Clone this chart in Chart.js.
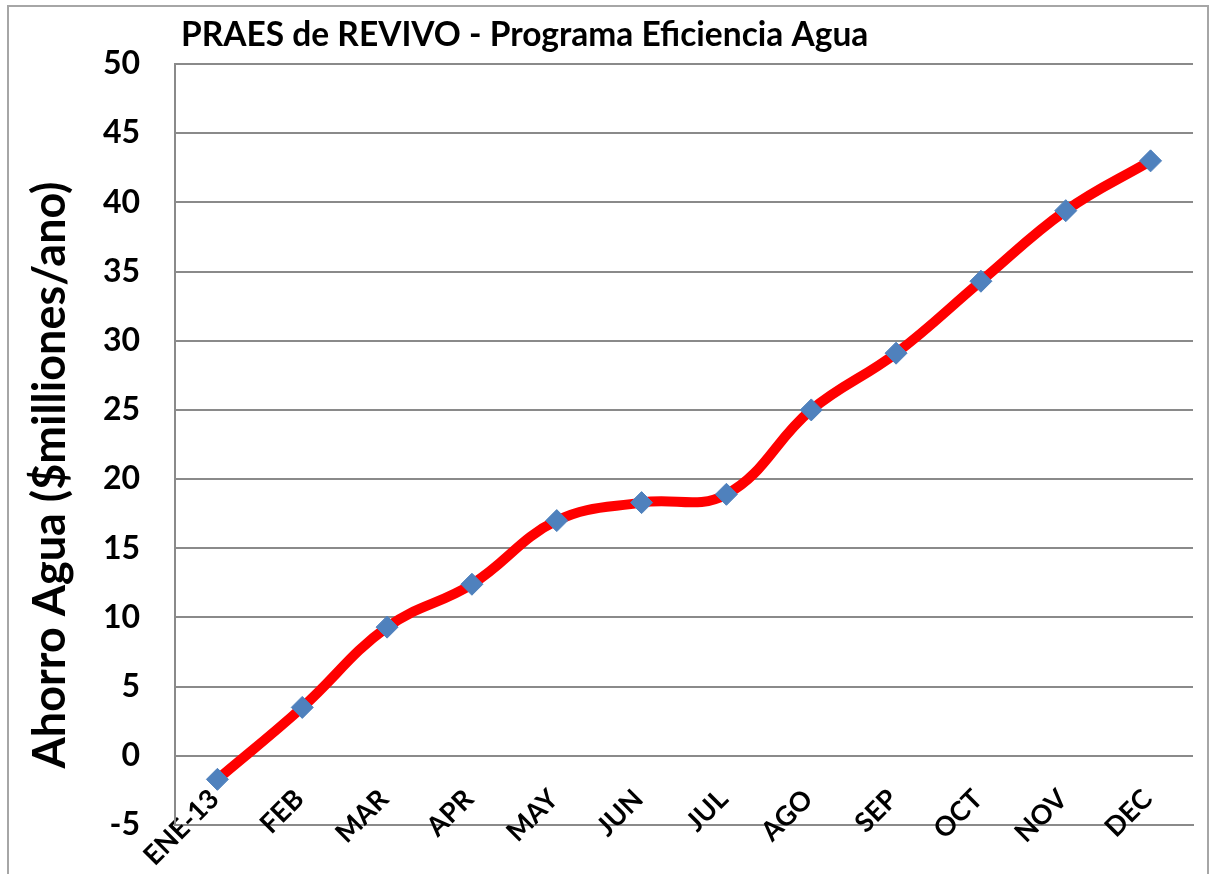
<!DOCTYPE html>
<html><head><meta charset="utf-8">
<script src="https://cdn.jsdelivr.net/npm/chart.js@4.4.1/dist/chart.umd.min.js"></script>
<style>html,body{margin:0;padding:0;background:#fff}#wrap{position:relative;width:1211px;height:874px}</style>
</head><body><div id="wrap"><canvas id="c" width="1211" height="874"></canvas></div>
<script>
const categories = ['ENE-13','FEB','MAR','APR','MAY','JUN','JUL','AGO','SEP','OCT','NOV','DEC'];
const ahorroAgua = [-1.7, 3.5, 9.3, 12.4, 17.0, 18.3, 18.9, 25.0, 29.1, 34.3, 39.4, 43.0];
const yMin = -5, yMax = 50, yStep = 5;
const chartTitle = 'PRAES de REVIVO - Programa Eficiencia Agua';
const yAxisTitle = 'Ahorro Agua ($milliones/ano)';

const FONT = 'Lato, "Open Sans", sans-serif';
const GRID = '#8a8a8a';

const deco = {
  id: 'deco',
  beforeDraw(chart) {
    const ctx = chart.ctx;
    ctx.save();
    ctx.fillStyle = '#fff';
    ctx.fillRect(0, 0, chart.width, chart.height);
    ctx.strokeStyle = '#a6a6a6';
    ctx.lineWidth = 2;
    ctx.strokeRect(8, 6, 1200, 900);
    ctx.restore();
  },
  afterDraw(chart) {
    const ctx = chart.ctx;
    ctx.save();
    ctx.fillStyle = '#000';
    ctx.font = 'bold 33.5px ' + FONT;
    ctx.textAlign = 'left';
    ctx.textBaseline = 'middle';
    ctx.fillText(chartTitle, 181, 35);
    ctx.translate(50, 475);
    ctx.rotate(-Math.PI / 2);
    ctx.textAlign = 'center';
    ctx.font = 'bold 45px ' + FONT;
    ctx.fillText(yAxisTitle, 0, 0);
    ctx.restore();
  }
};

new Chart(document.getElementById('c'), {
  type: 'line',
  data: {
    labels: categories,
    datasets: [{
      data: ahorroAgua,
      borderColor: '#ff0000',
      borderWidth: 10,
      tension: 0.4,
      pointStyle: 'rectRot',
      pointRadius: 11,
      pointBackgroundColor: '#4f81bd',
      pointBorderColor: '#4f81bd',
      pointBorderWidth: 1,
      fill: false
    }]
  },
  options: {
    responsive: false,
    animation: false,
    devicePixelRatio: 1,
    layout: { padding: { top: 64, right: 18, bottom: 0, left: 0 } },
    plugins: { legend: { display: false }, title: { display: false }, tooltip: { enabled: false } },
    scales: {
      x: {
        offset: true,
        grid: { display: false, drawTicks: false },
        border: { color: GRID, width: 2 },
        ticks: {
          autoSkip: false, maxRotation: 45, minRotation: 45, mirror: true, padding: 19, labelOffset: 20,
          color: '#000', font: { family: FONT, weight: 'bold', size: 27 }
        },
        afterFit(scale) { scale.height = 49; }
      },
      y: {
        min: yMin, max: yMax,
        grid: { color: GRID, lineWidth: 2, drawTicks: false },
        border: { color: GRID, width: 2 },
        ticks: {
          stepSize: yStep, padding: 35,
          color: '#000', font: { family: FONT, weight: 'bold', size: 32, lineHeight: 0.85 }
        },
        afterFit(scale) { scale.width = 175; }
      }
    }
  },
  plugins: [deco]
});
</script></body></html>
